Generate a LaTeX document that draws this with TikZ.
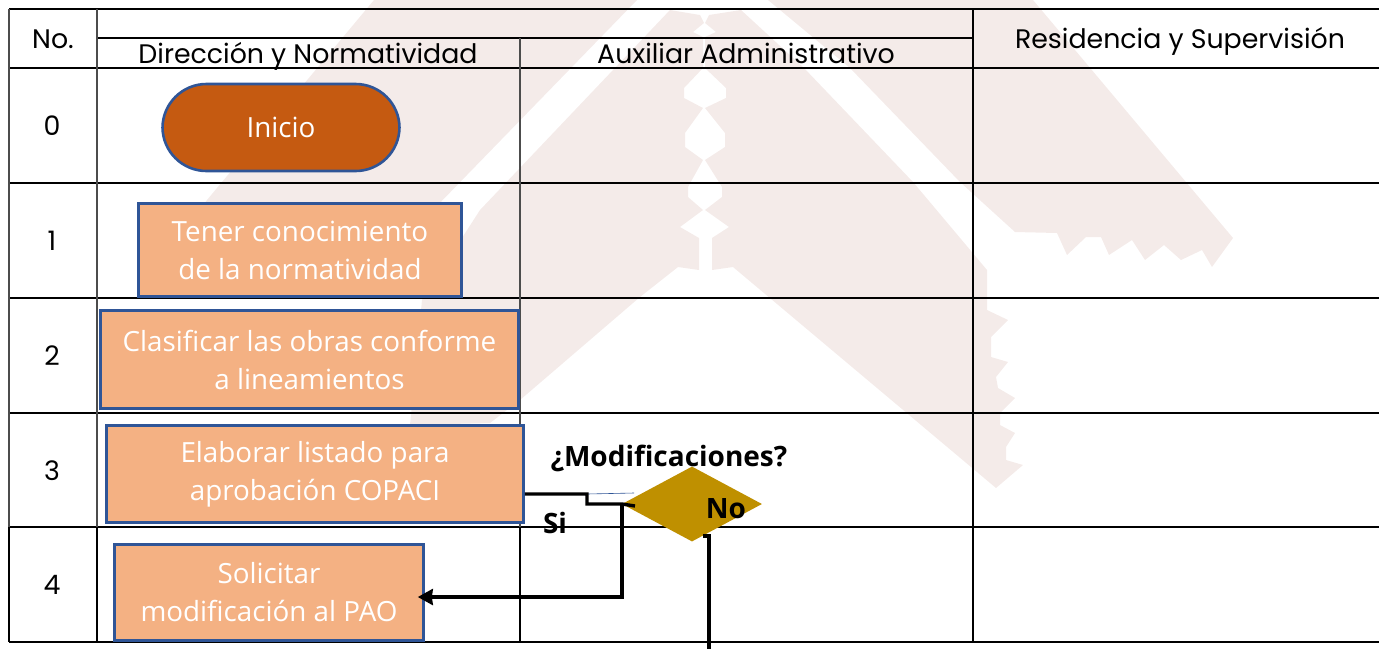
\documentclass[tikz,border=0pt]{standalone}
\usepackage{fontspec}
\setmainfont{Open Sans}
\newfontfamily\headfont{Poppins}
\usetikzlibrary{arrows.meta,positioning,calc,shapes.geometric}
\definecolor{sello}{HTML}{F4EBE9}
\definecolor{borde}{HTML}{2F5597}
\definecolor{naranja}{HTML}{C55A11}
\definecolor{salmon}{HTML}{F4B183}
\definecolor{ocre}{HTML}{BF9000}
\tikzset{
  >=Stealth,
  grid/.style={line width=2pt, black},
  thingrid/.style={line width=1.3pt, black!70},
  head/.style={font=\headfont\fontsize{26.8}{30}\selectfont, text=black, inner sep=0pt, anchor=base},
  rownum/.style={font=\headfont\fontsize{26.8}{30}\selectfont, text=black, inner sep=0pt},
  arrow/.style={-{Stealth[length=15pt,width=16pt,inset=1pt]}, line width=3.4pt, black},
  link/.style={line width=3.4pt, black}
}

\begin{document}
\begin{tikzpicture}[
  x=1pt, y=-1pt,
  % --- Styles ---
  phase/.style={
    rectangle, draw=borde, line width=2.6pt, fill=salmon,
    text=white, align=center, inner sep=0pt,
    font=\fontsize{27.8}{38}\selectfont
  },
  terminal/.style={
    rectangle, rounded corners=44pt, draw=borde, line width=2.6pt, fill=naranja,
    text=white, minimum width=237pt, minimum height=87pt, inner sep=0pt,
    font=\fontsize{27.8}{38}\selectfont
  },
  decision/.style={
    diamond, fill=ocre, minimum width=140pt, minimum height=75pt, inner sep=0pt
  },
  note/.style={font=\bfseries\fontsize{28}{30}\selectfont, text=black, inner sep=0pt}
]
\useasboundingbox (0,0) rectangle (1379,649);

% ---- Watermark ----
\fill[sello] (374,0) -- (637,0) -- (433,210) -- (400,280) -- (140,290) -- (207,200) -- cycle;
\fill[sello] (670,10) -- (700,15) -- (704,23) -- (693,32) -- (703,37) -- (703,68) -- (684,88)
  -- (684,98) -- (703,108) -- (685,133) -- (685,147) -- (703,160) -- (688,187) -- (688,197)
  -- (703,210) -- (680,227) -- (699,238) -- (699,270) -- (678,267) -- (640,297) -- (520,400)
  -- (490,423) -- (410,425) -- (422,300) -- (480,210) -- cycle;
\fill[sello] (709,15) -- (741,10) -- (804,68) -- (913,182) -- (987,270) -- (987,310) -- (1008,320)
  -- (991,337) -- (991,357) -- (1008,362) -- (996,377) -- (998,388) -- (1015,398) -- (1000,413)
  -- (1000,425) -- (1015,433) -- (1006,447) -- (1006,460) -- (1023,465) -- (996,488) -- (733,267)
  -- (712,270) -- (712,238) -- (729,227) -- (705,210) -- (722,197) -- (722,187) -- (705,160)
  -- (725,147) -- (725,133) -- (705,108) -- (726,98) -- (726,88) -- (705,68) -- (705,37)
  -- (716,32) -- (705,23) -- cycle;
\fill[sello] (768,0) -- (1033,0) -- (1233,238) -- (1212,267) -- (1202,250) -- (1181,260)
  -- (1164,245) -- (1145,260) -- (1132,240) -- (1109,255) -- (1101,237) -- (1086,237)
  -- (1067,255) -- (1057,233) -- (1015,232) -- (960,182) -- (850,68) -- cycle;

% ---- Table ----
\draw[grid] (9,9) -- (1379,9);
\draw[grid] (97,38) -- (973,38);
\draw[grid] (9,68) -- (1379,68);
\draw[grid] (9,183) -- (1379,183);
\draw[grid] (9,298) -- (1379,298);
\draw[grid] (9,413) -- (1379,413);
\draw[grid] (9,527) -- (1379,527);
\draw[grid] (9,642) -- (1379,642);
\draw[thingrid] (9,9) -- (9,527);
\draw[thingrid] (97,9) -- (97,527);
\draw[thingrid] (520,38) -- (520,413);
\draw[grid] (9,527) -- (9,642);
\draw[grid] (97,527) -- (97,642);
\draw[thingrid] (520,413) -- (520,527);
\draw[grid] (520,527) -- (520,642);
\draw[grid] (973,9) -- (973,642);

% ---- Headers ----
\node[head] (no) at (53,48) {No.};
\node[head] (dir) at (308,63) {Dirección y Normatividad};
\node[head] (aux) at (746,63) {Auxiliar Administrativo};
\node[head] (res) at (1180,48) {Residencia y Supervisión};

% ---- Row numbers ----
\node[rownum] (n0) at (52,126) {0};
\node[rownum] (n1) at (52,241) {1};
\node[rownum] (n2) at (52,356) {2};
\node[rownum] (n3) at (52,471) {3};
\node[rownum] (n4) at (52,585) {4};

% ---- Flow nodes ----
\node[terminal] (inicio) at (281,127.5) {Inicio};
\node[phase, minimum width=323pt, minimum height=93pt] (tener) at (300,250) {Tener conocimiento\\de la normatividad};
\node[phase, minimum width=418pt, minimum height=98pt] (clasif) at (309.5,359.5) {Clasificar las obras conforme\\a lineamientos};
\node[phase, minimum width=417pt, minimum height=97pt] (elab) at (315,474) {Elaborar listado para\\aprobación COPACI};
\node[phase, minimum width=309pt, minimum height=96pt] (solic) at (269,592.5) {Solicitar\\modificación al PAO};
\node[decision] (modif) at (692,504) {};

% ---- Labels ----
\node[note] (pregunta) at (669,458) {¿Modificaciones?};
\node[note] (no2) at (726,509) {No};
\node[note] (si) at (555,523) {Si};

% ---- Connectors ----
\coordinate (c1) at (587,494);
\coordinate (c2) at (587,504);
\coordinate (c3) at (622,504);
\coordinate (c4) at (622,597);
\coordinate (c5) at (703,536);
\coordinate (c6) at (709,536);
\coordinate (c7) at (709,649);
\draw[borde, line width=0.6pt] (c1) -- ++(47,-1);
\draw[link] (elab.east |- c1) -- (c1) -- (c2) -- (c3) -- ++(13,2);
\draw[arrow, shorten >=-7pt] (c3) -- (c4) -- (solic.east |- c4);
\draw[link] (c5) -- (c6) -- (c7);

\end{tikzpicture}
\end{document}
